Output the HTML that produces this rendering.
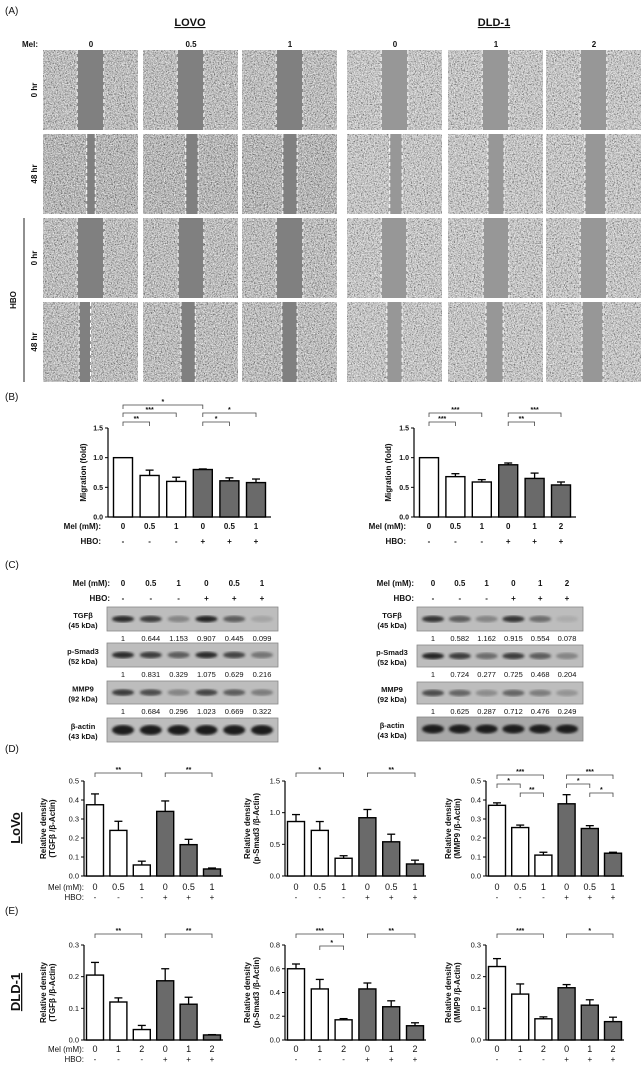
<!DOCTYPE html>
<html><head><meta charset="utf-8">
<style>
html,body{margin:0;padding:0;background:#fff;}
svg{display:block;font-family:"Liberation Sans",Arial,sans-serif;}
</style></head>
<body>
<svg id="fig" width="644" height="1070" viewBox="0 0 644 1070">
<defs>
<filter id="noise" x="0" y="0" width="100%" height="100%">
<feTurbulence type="fractalNoise" baseFrequency="0.9" numOctaves="2" seed="3"/>
<feColorMatrix type="matrix" values="0 0 0 0 1  0 0 0 0 1  0 0 0 0 1  0 0 0 3 -1.3"/>
</filter>
<filter id="noiseD" x="0" y="0" width="100%" height="100%">
<feTurbulence type="fractalNoise" baseFrequency="0.7" numOctaves="2" seed="9"/>
<feColorMatrix type="matrix" values="0 0 0 0 0  0 0 0 0 0  0 0 0 0 0  0 0 0 2.4 -1.1"/>
</filter>
<filter id="blur"><feGaussianBlur stdDeviation="1.3"/></filter>
</defs>
</svg>
<script>
// ---------- Panel B data ----------
const B1_cats=['0','0.5','1','0','0.5','1'];
const B2_cats=['0','0.5','1','0','1','2'];
const HBO=['-','-','-','+','+','+'];
const B1_vals=[1.0,0.70,0.60,0.80,0.61,0.58];
const B1_errs=[1.0,0.79,0.67,0.81,0.66,0.64];
const B2_vals=[1.0,0.68,0.59,0.88,0.65,0.54];
const B2_errs=[1.0,0.73,0.63,0.91,0.74,0.59];
const B_ticks=[0,0.5,1.0,1.5];
const B_tickLabels=['0.0','0.5','1.0','1.5'];
// ---------- Panel D data (LoVo) ----------
const D_cats=['0','0.5','1','0','0.5','1'];
const D1_vals=[0.375,0.24,0.058,0.34,0.165,0.037];
const D1_errs=[0.432,0.288,0.078,0.395,0.193,0.042];
const D2_vals=[0.86,0.72,0.28,0.92,0.54,0.19];
const D2_errs=[0.97,0.86,0.32,1.05,0.66,0.25];
const D3_vals=[0.372,0.255,0.11,0.38,0.25,0.12];
const D3_errs=[0.385,0.268,0.125,0.428,0.265,0.125];
const D13_ticks=[0,0.1,0.2,0.3,0.4,0.5];
const D13_tickLabels=['0.0','0.1','0.2','0.3','0.4','0.5'];
const D2_ticks=[0,0.5,1.0,1.5];
const D2_tickLabels=['0.0','0.5','1.0','1.5'];
// ---------- Panel E data (DLD-1) ----------
const E_cats=['0','1','2','0','1','2'];
const E1_vals=[0.205,0.12,0.033,0.187,0.113,0.016];
const E1_errs=[0.245,0.133,0.046,0.225,0.135,0.017];
const E2_vals=[0.60,0.43,0.17,0.43,0.28,0.12];
const E2_errs=[0.64,0.51,0.18,0.48,0.33,0.145];
const E3_vals=[0.232,0.145,0.067,0.165,0.11,0.058];
const E3_errs=[0.257,0.177,0.073,0.175,0.127,0.072];
const E13_ticks=[0,0.1,0.2,0.3];
const E13_tickLabels=['0.0','0.1','0.2','0.3'];
const E2_ticks=[0,0.2,0.4,0.6,0.8];
const E2_tickLabels=['0.0','0.2','0.4','0.6','0.8'];
// ---------- Panel C data ----------
const C1_tgf=['1','0.644','1.153','0.907','0.445','0.099'];
const C1_smad=['1','0.831','0.329','1.075','0.629','0.216'];
const C1_mmp=['1','0.684','0.296','1.023','0.669','0.322'];
const C2_tgf=['1','0.582','1.162','0.915','0.554','0.078'];
const C2_smad=['1','0.724','0.277','0.725','0.468','0.204'];
const C2_mmp=['1','0.625','0.287','0.712','0.476','0.249'];
const C1_band_tgf=[0.9,0.8,0.35,0.95,0.6,0.15];
const C1_band_smad=[0.9,0.8,0.6,0.9,0.75,0.45];
const C1_band_mmp=[0.8,0.7,0.35,0.75,0.6,0.4];
const C2_band_tgf=[0.85,0.6,0.35,0.85,0.5,0.1];
const C2_band_smad=[0.95,0.8,0.5,0.8,0.6,0.35];
const C2_band_mmp=[0.7,0.55,0.3,0.55,0.4,0.25];
const BAND_actin=[1,1,1,1,1,1];

const NS='http://www.w3.org/2000/svg';
const svg=document.getElementById('fig');
function el(tag,attrs,parent,name,inter){
  const e=document.createElementNS(NS,tag);
  for(const k in attrs)e.setAttribute(k,attrs[k]);
  
  
  (parent||svg).appendChild(e);return e;
}
function txt(x,y,s,o,parent,name){
  o=o||{};
  const t=el('text',{x:x,y:y,'font-size':o.fs||8,'text-anchor':o.anchor||'middle','font-weight':o.bold?'bold':'normal',fill:'#111'},parent,name||'label');
  if(o.rot!==undefined)t.setAttribute('transform','rotate('+o.rot+' '+x+' '+y+')');
  if(o.ul)t.setAttribute('text-decoration','underline');
  t.textContent=s;return t;
}

// ---------- panel labels ----------
txt(5,14,'(A)',{fs:10,anchor:'start'},null,'panel-a-label');
txt(5,400,'(B)',{fs:10,anchor:'start'},null,'panel-b-label');
txt(5,568,'(C)',{fs:10,anchor:'start'},null,'panel-c-label');
txt(5,752,'(D)',{fs:10,anchor:'start'},null,'panel-d-label');
txt(5,914,'(E)',{fs:10,anchor:'start'},null,'panel-e-label');

// ---------- Panel A: wound healing images ----------
const gA=el('g',{},svg,'panel-a-images');
txt(190,26,'LOVO',{fs:11,bold:true,ul:true},gA,'lovo-title');
txt(494,26,'DLD-1',{fs:11,bold:true,ul:true},gA,'dld1-title');
txt(30,47,'Mel:',{fs:8,bold:true},gA,'mel-label');
const colX=[43,143,242,347,448,546];
const colLab=['0','0.5','1','0','1','2'];
colX.forEach((x,i)=>txt(x+48,47,colLab[i],{fs:8,bold:true},gA,'column-header'));
const rowY=[50,134,218,302];
const rowLab=['0 hr','48 hr','0 hr','48 hr'];
rowY.forEach((y,i)=>txt(37,y+40,rowLab[i],{fs:8,bold:true,rot:-90},gA,'row-label'));
el('line',{x1:24,y1:218,x2:24,y2:382,stroke:'#222','stroke-width':1},gA,'hbo-bracket-line');
txt(16,300,'HBO',{fs:8,bold:true,rot:-90},gA,'hbo-row-label');
const gaps=[
 [[.36,.64],[.36,.64],[.36,.64],[.36,.64],[.36,.64],[.36,.64]],
 [[.46,.55],[.45,.58],[.43,.58],[.45,.58],[.42,.59],[.41,.63]],
 [[.36,.64],[.37,.64],[.36,.64],[.36,.63],[.37,.64],[.36,.64]],
 [[.38,.50],[.40,.55],[.42,.58],[.42,.58],[.40,.58],[.38,.60]]];
rowY.forEach((y,r)=>colX.forEach((x,c)=>{
  const w=95,h=80;
  const g=el('g',{},gA,'micrograph-tile');
  const lovo=c<3;
  el('rect',{x:x,y:y,width:w,height:h,fill:lovo?(r==1?'#b2b2b2':'#bababa'):'#c4c4c4'},g,'cell-area');
  el('rect',{x:x,y:y,width:w,height:h,filter:'url(#noiseD)',opacity:0.6},g,'cell-shadow-texture');
  el('rect',{x:x,y:y,width:w,height:h,filter:'url(#noise)',opacity:0.8},g,'cell-texture');
  const a=x+w*gaps[r][c][0],b=x+w*gaps[r][c][1];
  el('rect',{x:a,y:y,width:b-a,height:h,fill:lovo?'#808080':'#979797'},g,'wound-gap');
  el('line',{x1:a,y1:y,x2:a,y2:y+h,stroke:'#fff','stroke-width':1,'stroke-dasharray':'4 3'},g,'wound-edge');
  el('line',{x1:b,y1:y,x2:b,y2:y+h,stroke:'#fff','stroke-width':1,'stroke-dasharray':'4 3'},g,'wound-edge');
}));

// ---------- bar chart ----------
function chart(c){
  const g=el('g',{},svg,c.name);
  const y=v=>c.yBase-(v/c.max)*(c.yBase-c.yTop);
  const n=c.vals.length, step=(c.x1-c.x0-2*c.pad)/(n-1);
  const xc=i=>c.x0+c.pad+i*step;
  const fw=c.bold;
  el('line',{x1:c.x0,y1:c.yTop,x2:c.x0,y2:c.yBase,stroke:'#000','stroke-width':1.2},g,'y-axis');
  el('line',{x1:c.x0,y1:c.yBase,x2:c.x1,y2:c.yBase,stroke:'#000','stroke-width':1.2},g,'x-axis');
  c.ticks.forEach((t,i)=>{
    el('line',{x1:c.x0-3,y1:y(t),x2:c.x0,y2:y(t),stroke:'#000','stroke-width':1},g,'y-tick');
    txt(c.x0-5,y(t)+2.5,c.tickLabels[i],{fs:c.tfs||7,anchor:'end',bold:fw},g,'y-tick-label');
  });
  c.vals.forEach((v,i)=>{
    const bw=c.bw;
    el('line',{x1:xc(i),y1:y(c.errs[i]),x2:xc(i),y2:y(v),stroke:'#000','stroke-width':1.3},g,'error-bar');
    el('line',{x1:xc(i)-4,y1:y(c.errs[i]),x2:xc(i)+4,y2:y(c.errs[i]),stroke:'#000','stroke-width':1.3},g,'error-cap');
    el('rect',{x:xc(i)-bw/2,y:y(v),width:bw,height:c.yBase-y(v),fill:i<3?'#fff':'#6a6a6a',stroke:'#000','stroke-width':1.4},g,'bar-'+i);
    txt(xc(i),c.melY,c.cats[i],{fs:c.cfs||8,bold:fw},g,'x-category-label');
    txt(xc(i),c.hboY,HBO[i],{fs:8,bold:fw},g,'hbo-sign');
  });
  if(c.melLabel){
    txt(c.labX,c.melY,'Mel (mM):',{fs:8,anchor:'end',bold:fw},g,'mel-axis-label');
    txt(c.labX,c.hboY,'HBO:',{fs:8,anchor:'end',bold:fw},g,'hbo-axis-label');
  }
  c.br.forEach(b=>{
    const a=xc(b[0]),e=xc(b[1]);
    el('path',{d:'M'+a+' '+(b[2]+4)+'V'+b[2]+'H'+e+'V'+(b[2]+4),fill:'none',stroke:'#444','stroke-width':0.8},g,'significance-bracket');
    txt((a+e)/2,b[2]-1,b[3],{fs:7,bold:true},g,'significance-stars');
  });
  c.ylab.forEach((s,k)=>txt(c.ylx+k*9,(c.yTop+c.yBase)/2,s,{fs:8,bold:true,rot:-90},g,'y-axis-title'));
}

const Bcommon={yTop:428,yBase:517,max:1.5,ticks:B_ticks,tickLabels:B_tickLabels,pad:15,bw:19,melY:529,hboY:544,bold:true,melLabel:true};
chart(Object.assign({},Bcommon,{name:'chart-b-lovo',x0:108,x1:271,vals:B1_vals,errs:B1_errs,cats:B1_cats,labX:101,ylab:['Migration (fold)'],ylx:86,
 br:[[0,3,405,'*'],[0,2,413,'***'],[0,1,422,'**'],[3,5,413,'*'],[3,4,422,'*']]}));
chart(Object.assign({},Bcommon,{name:'chart-b-dld1',x0:414,x1:576,vals:B2_vals,errs:B2_errs,cats:B2_cats,labX:406,ylab:['Migration (fold)'],ylx:391,
 br:[[0,2,413,'***'],[0,1,422,'***'],[3,5,413,'***'],[3,4,422,'**']]}));

const Dc={yTop:781,yBase:876,pad:11,bw:17,melY:890,hboY:900,bold:false,tfs:7.5,cfs:9};
chart(Object.assign({},Dc,{name:'chart-d-tgfb',x0:84,x1:223,max:0.5,ticks:D13_ticks,tickLabels:D13_tickLabels,vals:D1_vals,errs:D1_errs,cats:D_cats,melLabel:true,labX:84,
 ylab:['Relative density','(TGFβ /β-Actin)'],ylx:46,br:[[0,2,773,'**'],[3,5,773,'**']]}));
chart(Object.assign({},Dc,{name:'chart-d-psmad3',x0:285,x1:426,max:1.5,ticks:D2_ticks,tickLabels:D2_tickLabels,vals:D2_vals,errs:D2_errs,cats:D_cats,
 ylab:['Relative density','(p-Smad3 /β-Actin)'],ylx:250,br:[[0,2,773,'*'],[3,5,773,'**']]}));
chart(Object.assign({},Dc,{name:'chart-d-mmp9',x0:486,x1:624,max:0.5,ticks:D13_ticks,tickLabels:D13_tickLabels,vals:D3_vals,errs:D3_errs,cats:D_cats,
 ylab:['Relative density','(MMP9 /β-Actin)'],ylx:451,br:[[0,2,775,'***'],[0,1,784,'*'],[1,2,793,'**'],[3,5,775,'***'],[3,4,784,'*'],[4,5,793,'*']]}));

const Ec={yTop:945,yBase:1040,pad:11,bw:17,melY:1052,hboY:1062,bold:false,tfs:7.5,cfs:9};
chart(Object.assign({},Ec,{name:'chart-e-tgfb',x0:84,x1:223,max:0.3,ticks:E13_ticks,tickLabels:E13_tickLabels,vals:E1_vals,errs:E1_errs,cats:E_cats,melLabel:true,labX:84,
 ylab:['Relative density','(TGFβ /β-Actin)'],ylx:46,br:[[0,2,934,'**'],[3,5,934,'**']]}));
chart(Object.assign({},Ec,{name:'chart-e-psmad3',x0:285,x1:426,max:0.8,ticks:E2_ticks,tickLabels:E2_tickLabels,vals:E2_vals,errs:E2_errs,cats:E_cats,
 ylab:['Relative density','(p-Smad3 /β-Actin)'],ylx:250,br:[[0,2,934,'***'],[1,2,946,'*'],[3,5,934,'**']]}));
chart(Object.assign({},Ec,{name:'chart-e-mmp9',x0:486,x1:624,max:0.3,ticks:E13_ticks,tickLabels:E13_tickLabels,vals:E3_vals,errs:E3_errs,cats:E_cats,
 ylab:['Relative density','(MMP9 /β-Actin)'],ylx:451,br:[[0,2,934,'***'],[3,5,934,'*']]}));

txt(20,828,'LoVo',{fs:13,bold:true,ul:true,rot:-90},null,'lovo-row-title');
txt(20,992,'DLD-1',{fs:13,bold:true,ul:true,rot:-90},null,'dld1-row-title');

// ---------- Panel C: western blots ----------
function blots(p){
  const g=el('g',{},svg,p.name);
  txt(p.labX,586,'Mel (mM):',{fs:8,bold:true,anchor:'end'},g,'mel-label');
  txt(p.labX,601,'HBO:',{fs:8,bold:true,anchor:'end'},g,'hbo-label');
  const step=(p.bx1-p.bx0-32)/5, lx=i=>p.bx0+16+i*step;
  p.cats.forEach((s,i)=>{txt(lx(i),586,s,{fs:8,bold:true},g,'lane-label');txt(lx(i),601,HBO[i],{fs:8,bold:true},g,'hbo-sign');});
  p.rows.forEach(r=>{
    el('rect',{x:p.bx0,y:r.y,width:p.bx1-p.bx0,height:r.h,fill:r.bg||'#bdbdbd',stroke:'#888','stroke-width':0.8},g,'blot-membrane');
    r.band.forEach((o,i)=>el('ellipse',{cx:lx(i),cy:r.y+r.h/2,rx:11,ry:r.ry||3.2,fill:'#1a1a1a',opacity:o,filter:'url(#blur)'},g,'protein-band'));
    txt(p.tx,r.y+r.h/2-1,r.n1,{fs:7.5,bold:true},g,'blot-label');
    txt(p.tx,r.y+r.h/2+9,r.n2,{fs:7.5,bold:true},g,'blot-kda');
    if(r.nums)r.nums.forEach((s,i)=>txt(lx(i),r.y+r.h+10,s,{fs:7.5},g,'density-value'));
  });
}
blots({name:'blots-lovo',labX:110,bx0:107,bx1:278,tx:83,cats:B1_cats,rows:[
 {y:607,h:24,band:C1_band_tgf,n1:'TGFβ',n2:'(45 kDa)',nums:C1_tgf},
 {y:643,h:24,band:C1_band_smad,n1:'p-Smad3',n2:'(52 kDa)',nums:C1_smad},
 {y:681,h:23,band:C1_band_mmp,n1:'MMP9',n2:'(92 kDa)',nums:C1_mmp},
 {y:718,h:24,band:BAND_actin,n1:'β-actin',n2:'(43 kDa)',ry:5}]});
blots({name:'blots-dld1',labX:414,bx0:417,bx1:583,tx:392,cats:B2_cats,rows:[
 {y:607,h:24,band:C2_band_tgf,n1:'TGFβ',n2:'(45 kDa)',nums:C2_tgf},
 {y:645,h:22,band:C2_band_smad,n1:'p-Smad3',n2:'(52 kDa)',nums:C2_smad},
 {y:682,h:22,band:C2_band_mmp,n1:'MMP9',n2:'(92 kDa)',nums:C2_mmp},
 {y:717,h:24,band:BAND_actin,n1:'β-actin',n2:'(43 kDa)',ry:4.5,bg:'#a8a8a8'}]});
</script>
</body></html>
